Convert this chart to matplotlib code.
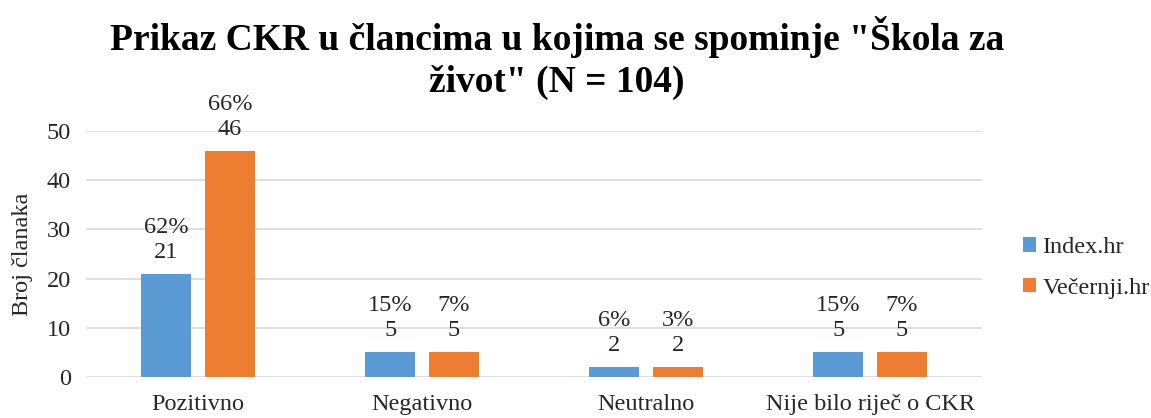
import numpy as np
import matplotlib.pyplot as plt

categories = ['Pozitivno', 'Negativno', 'Neutralno', 'Nije bilo riječ o CKR']
index_vals = [21, 5, 2, 5]
vecernji_vals = [46, 5, 2, 5]
index_pct = ['62%', '15%', '6%', '15%']
vecernji_pct = ['66%', '7%', '3%', '7%']
title_lines = ['Prikaz CKR u člancima u kojima se spominje "Škola za', 'život" (N = 104)']

plt.rcParams['font.family'] = ['Liberation Serif', 'DejaVu Serif']
fs = 17.5

fig = plt.figure(figsize=(11.51, 4.18), dpi=100)
ax = fig.add_axes([86 / 1151, 1 - 377 / 418, 896 / 1151, 246 / 418])

x = np.arange(len(categories))
w = 0.223
off = 0.142
b1 = ax.bar(x - off, index_vals, w, color='#5B9BD5', label='Index.hr', zorder=3)
b2 = ax.bar(x + off, vecernji_vals, w, color='#ED7D31', label='Večernji.hr', zorder=3)

for bars, pcts in ((b1, index_pct), (b2, vecernji_pct)):
    for bar, p in zip(bars, pcts):
        ax.annotate(p + '\n' + str(int(bar.get_height())),
                    (bar.get_x() + bar.get_width() / 2, bar.get_height()),
                    xytext=(0, 8), textcoords='offset points',
                    ha='center', va='bottom', fontsize=fs, linespacing=1.25,
                    color='#262626')

ax.set_xlim(-0.5, len(categories) - 0.5)
ax.set_ylim(0, 50)
ax.set_yticks(range(0, 51, 10))
ax.set_xticks(x)
ax.set_xticklabels(categories)
ax.tick_params(axis='both', length=0, labelsize=fs, colors='#262626')
ax.tick_params(axis='y', pad=11)
ax.tick_params(axis='x', pad=12)
ax.grid(axis='y', color='#D9D9D9', lw=1.2, zorder=0)
for s in ax.spines.values():
    s.set_visible(False)
ax.set_ylabel('Broj članaka', fontsize=fs, color='#262626', labelpad=10)

# title as two separate lines
for line, yb in zip(title_lines, (50, 92)):
    fig.text(557 / 1151, 1 - yb / 418, line, ha='center', va='baseline',
             fontsize=27, fontweight='bold')

fig.legend(handles=[b1, b2], loc='center left', bbox_to_anchor=(1001 / 1151, 1 - 268 / 418),
           frameon=False, fontsize=fs, handlelength=0.55, handleheight=0.55,
           handletextpad=0.25, labelspacing=0.8, labelcolor='#262626')

fig.savefig('out.png', dpi=100)
